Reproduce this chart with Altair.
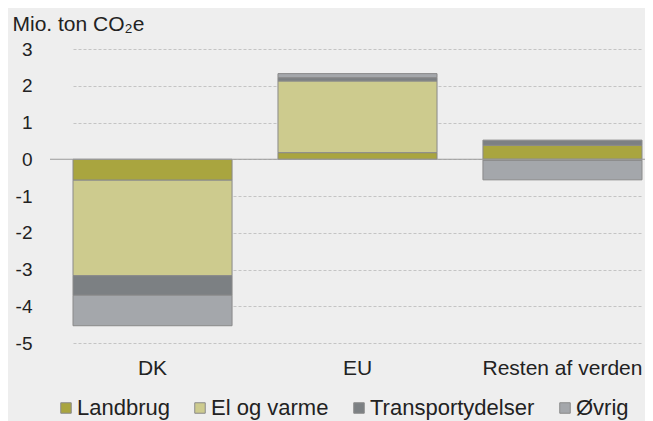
import altair as alt
import pandas as pd

regions = ["DK", "EU", "Resten af verden"]
sectors = ["Landbrug", "El og varme", "Transportydelser", "Øvrig"]
landbrug = [-0.57, 0.18, 0.38]
el_varme = [-2.60, 1.95, -0.03]
transport = [-0.53, 0.09, 0.14]
ovrig = [-0.83, 0.11, -0.53]
colors = ["#a9a53f", "#cdcb8e", "#7c8083", "#a4a7ab"]
y_ticks = [-5, -4, -3, -2, -1, 0, 1, 2, 3]

rows = []
for s_i, (s, vals) in enumerate(zip(sectors, [landbrug, el_varme, transport, ovrig])):
    for r, v in zip(regions, vals):
        rows.append({"region": r, "sector": s, "value": v, "order": s_i})
df = pd.DataFrame(rows)

y_axis = alt.Axis(values=y_ticks, title="Mio. ton CO₂e", titleAngle=0, titleX=-38, titleY=-19,
                  titleAlign="left", titleBaseline="alphabetic", titleFontSize=21,
                  titleFontWeight="normal", titleColor="#222222",
                  labelFontSize=19, labelPadding=18, labelColor="#222222",
                  labelOverlap=False,
                  domain=False, ticks=False, grid=True, gridDash=[3, 2],
                  gridColor="#c4c4c4", labelExpr="datum.value + ''")

bars = alt.Chart(df).mark_bar(stroke="#8a8a8a", strokeWidth=1).encode(
    x=alt.X(
        "region:N",
        sort=regions,
        scale=alt.Scale(range=[23, 592], paddingInner=0.224, paddingOuter=0),
        axis=alt.Axis(title=None, labelAngle=0, labelFontSize=21, labelPadding=14,
                      domain=False, ticks=False, labelColor="#222222", labelLimit=300),
    ),
    y=alt.Y(
        "value:Q",
        stack="zero",
        scale=alt.Scale(domain=[-5, 3], nice=False),
        axis=y_axis,
    ),
    color=alt.Color(
        "sector:N",
        sort=sectors,
        scale=alt.Scale(domain=sectors, range=colors),
        legend=alt.Legend(title=None, orient="none", legendX=5, legendY=348,
                          direction="horizontal", symbolType="square", symbolSize=110,
                          symbolStrokeWidth=1, labelFontSize=22, labelOffset=0,
                          columnPadding=19, labelColor="#222222", labelLimit=300),
    ),
    order=alt.Order("order:Q", sort="ascending"),
)

zero = alt.Chart(pd.DataFrame({"z": [0]})).mark_rule(color="#9a9a9a", strokeWidth=1).encode(
    y=alt.Y("z:Q", axis=y_axis)
)

chart = alt.layer(bars, zero).properties(
    width=595,
    height=294,
    padding={"left": 42, "top": 41, "right": 0, "bottom": 78},
    autosize="none",
    background="#eeeeee",
).configure(font="Liberation Sans").configure_view(stroke=None).configure_axisY(labelOverlap=False)

chart.save("out.html", embed_options={"renderer": "svg", "actions": False})
